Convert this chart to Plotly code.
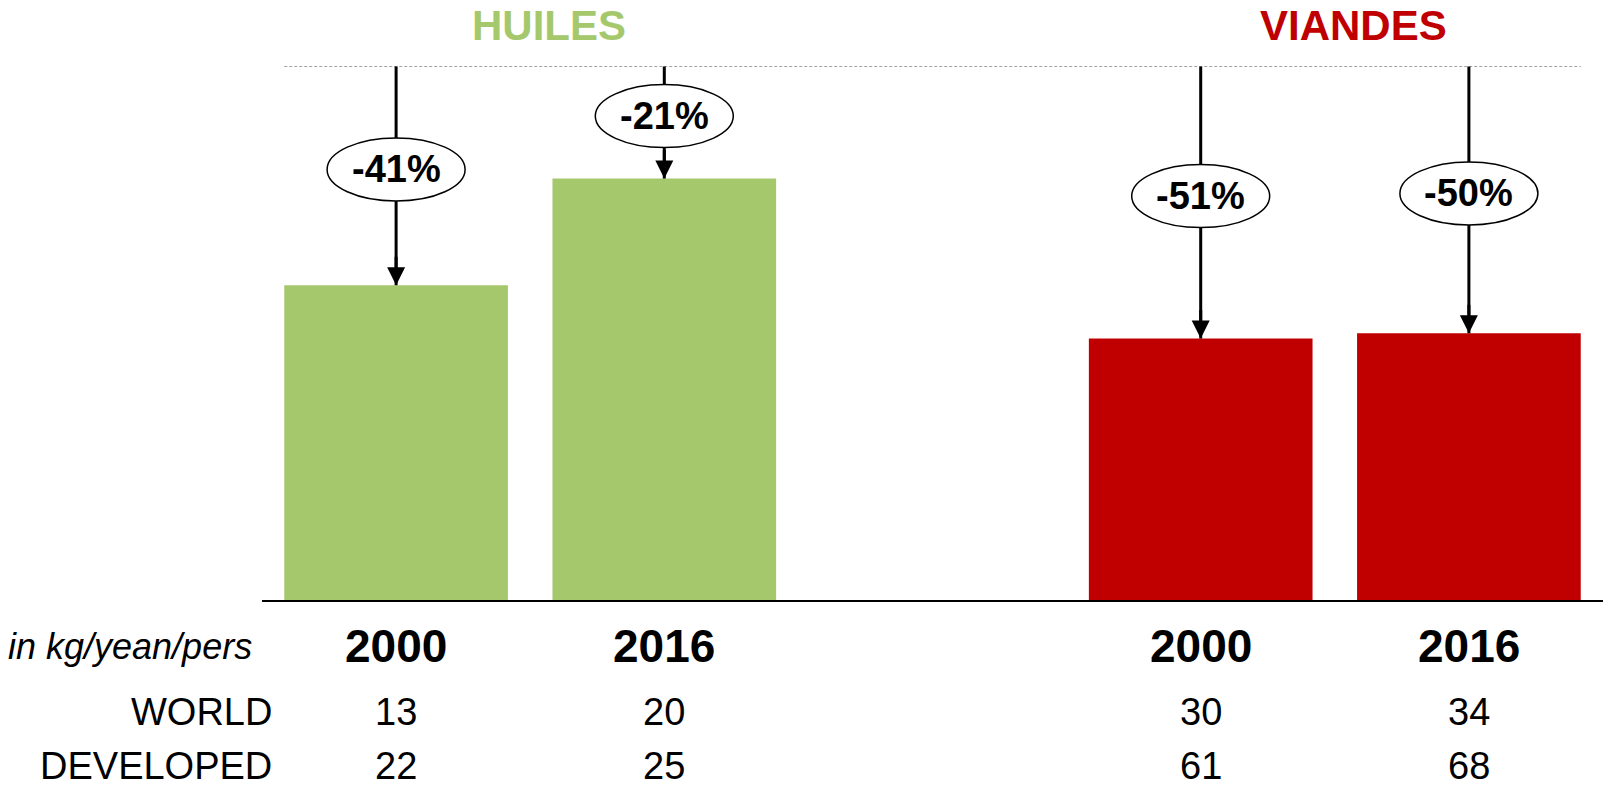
import plotly.graph_objects as go

# 1 = niveau des pays développés (ligne pointillée)
groups = ["HUILES", "VIANDES"]
years = ["2000", "2016"]
world = [[13, 20], [30, 34]]
developed = [[22, 25], [61, 68]]
gap_pct = [[-41, -21], [-51, -50]]
group_colors = ["#A6C86C", "#C00000"]

_FONT = "Liberation Sans, Arial, sans-serif"
BAR_W = 0.834
# lignes du tableau sous l'axe (paper, hauteur du tracé = 600 px)
ROW_Y = [-0.0767, -0.1867, -0.315]

xs, heights, colors = [], [], []
for gi, g in enumerate(groups):
    for yi, _ in enumerate(years):
        xs.append(gi * 3 + yi)
        heights.append(1 + gap_pct[gi][yi] / 100)
        colors.append(group_colors[gi])

fig = go.Figure(go.Bar(x=xs, y=heights, width=BAR_W, marker=dict(color=colors, line_width=0),
                       hoverinfo="skip"))

shapes = [dict(type="line", xref="x", yref="y", x0=xs[0] - BAR_W / 2, x1=xs[-1] + BAR_W / 2,
               y0=1, y1=1, line=dict(color="#A0A0A0", width=1, dash="3px,2px"), layer="below")]
annotations = []


def _txt(x, y, text, size, xref="x", color="black", yanchor="middle", **kw):
    return dict(x=x, y=y, xref=xref, yref="paper", showarrow=False, text=text,
                yanchor=yanchor, xanchor=kw.pop("xanchor", "center"),
                font=dict(size=size, color=color), **kw)


for gi, g in enumerate(groups):
    for yi, yr in enumerate(years):
        x = gi * 3 + yi
        h = 1 + gap_pct[gi][yi] / 100
        y_lab = (1 + h) / 2 + 0.012
        # flèche : trait + ellipse par-dessus + pointe
        shapes.append(dict(type="line", xref="x", yref="y", x0=x, x1=x, y0=1, y1=h,
                           line=dict(color="black", width=3), layer="above"))
        shapes.append(dict(type="circle", xref="x", yref="y", xsizemode="pixel", ysizemode="pixel",
                           xanchor=x, yanchor=y_lab, x0=-69, x1=69, y0=-31.5, y1=31.5,
                           fillcolor="white", line=dict(color="black", width=1.5), layer="above"))
        annotations.append(dict(x=x, y=y_lab, xref="x", yref="y", showarrow=False,
                                text=f"<b>{gap_pct[gi][yi]}%</b>", yanchor="middle",
                                font=dict(size=38, color="black")))
        annotations.append(dict(x=x, y=h, xref="x", yref="y", ax=0, ay=-30, text="",
                                showarrow=True, arrowhead=2, arrowsize=1.2, arrowwidth=3,
                                arrowcolor="black", standoff=0))
        annotations.append(_txt(x, ROW_Y[0], f"<b>{yr}</b>", 46))
        annotations.append(_txt(x, ROW_Y[1], str(world[gi][yi]), 38))
        annotations.append(_txt(x, ROW_Y[2], str(developed[gi][yi]), 38, yanchor="bottom"))
    annotations.append(dict(x=gi * 3 + 0.57, y=1, xref="x", yref="paper", showarrow=False,
                            yanchor="top", text=f"<b>{g}</b>",
                            font=dict(size=42, color=group_colors[gi])))

annotations += [
    _txt(0, ROW_Y[0], "<i>in kg/yean/pers</i>", 36, xref="paper", xanchor="right", xshift=-8),
    _txt(0, ROW_Y[1], "WORLD", 38, xref="paper", xanchor="right", xshift=12),
    _txt(0, ROW_Y[2], "DEVELOPED", 38, xref="paper", xanchor="right", xshift=12,
         yanchor="bottom"),
]

fig.update_layout(
    width=1603, height=790, template="plotly_white", showlegend=False,
    font=dict(family=_FONT, color="black"),
    margin=dict(l=262, r=0, t=0, b=190),
    plot_bgcolor="white", paper_bgcolor="white",
    xaxis=dict(range=[-0.5, 4.5], showline=True, linecolor="black", linewidth=2,
               showticklabels=False, ticks="", showgrid=False, zeroline=False, fixedrange=True),
    yaxis=dict(range=[0, 1.1246], visible=False, showgrid=False, zeroline=False, fixedrange=True),
    shapes=shapes, annotations=annotations,
)

# pas de marge de page autour de la figure
fig.write_html("out.html", config={"displayModeBar": False},
               post_script="document.body.style.margin='0';")
